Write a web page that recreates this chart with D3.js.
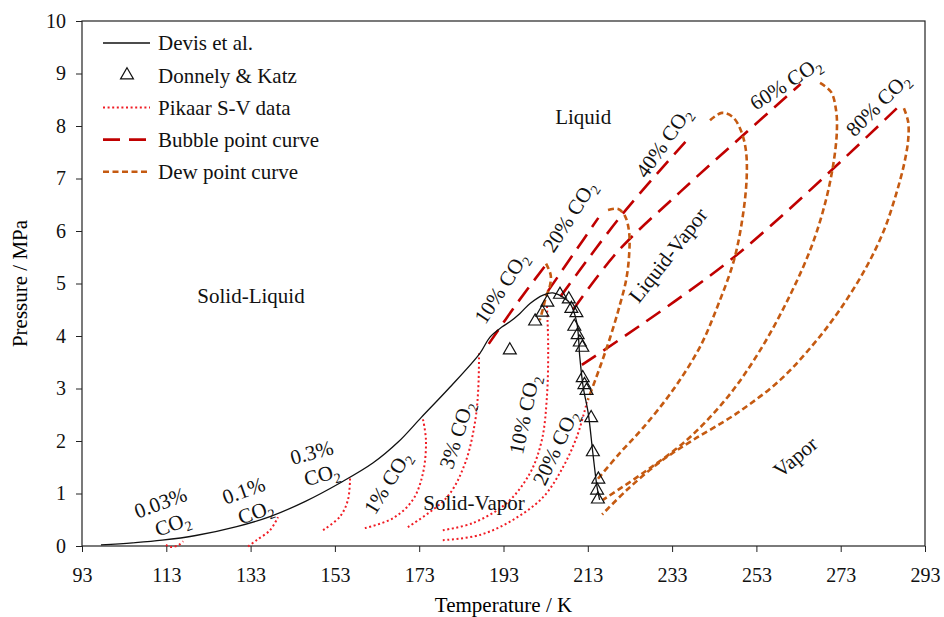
<!DOCTYPE html>
<html>
<head>
<meta charset="utf-8">
<script src="https://cdn.jsdelivr.net/npm/d3@7"></script>
<style>
  body { margin: 0; background: #fff; }
  svg { font-family: "Liberation Serif", "Times New Roman", serif; }
</style>
</head>
<body>
<svg width="944" height="617"></svg>
<script>
// Devis et al. solid-liquid-vapor line (T in K, P in MPa)
const devis = [
  [97.5, 0.02], [105, 0.06], [112, 0.11], [120, 0.2], [129.7, 0.37],
  [137.6, 0.56], [146, 0.85], [154.2, 1.2], [162, 1.58], [168, 1.98],
  [173.5, 2.45], [180, 3.0], [187.4, 3.67], [189.8, 3.98], [192.6, 4.17],
  [194.5, 4.27], [196.9, 4.43], [199.3, 4.62], [202.4, 4.78], [204.7, 4.82],
  [207.1, 4.74], [208.8, 4.62], [210.4, 4.25], [211.1, 3.6], [211.9, 3.03],
  [213.1, 2.53], [214.2, 1.77], [215.2, 1.12], [215.8, 0.88]
];

// Donnely & Katz points
const donnely = [
  [194.5, 3.73], [200.5, 4.28], [202.2, 4.45], [203.4, 4.64], [206.4, 4.79],
  [208.5, 4.7], [209.1, 4.52], [210.3, 4.44], [209.8, 4.18], [210.6, 4.02],
  [211.1, 3.88], [211.7, 3.78], [211.8, 3.2], [212.2, 3.07], [212.7, 2.96],
  [213.8, 2.44], [214.2, 1.79], [215.5, 1.27], [215.2, 1.06], [215.4, 0.89]
];

// Pikaar S-V data
const sv003 = [[112.9, 0.02], [114.2, -0.02], [116, 0.02], [117, 0.09]];
const sv01 = [[132.4, -0.01], [134.4, 0.11], [137.6, 0.3], [139.5, 0.55]];
const sv03 = [[150.2, 0.3], [154.2, 0.56], [156.1, 0.88], [156.6, 1.3]];
const sv1 = [[160.1, 0.34], [166.8, 0.53], [171.5, 0.88], [173.9, 1.39], [174.6, 2.02], [173.8, 2.45]];
const sv3 = [[170.3, 0.36], [179.6, 0.93], [183.9, 1.58], [186.2, 2.34], [187, 2.97], [187.2, 3.67]];
const sv10 = [[178.6, 0.3], [185.8, 0.44], [193.8, 0.82], [199.3, 1.39], [202.1, 2.02], [203.3, 2.84], [203.6, 3.8], [203.3, 4.6]];
const sv20 = [[178.6, 0.11], [187.4, 0.21], [195.3, 0.5], [202.4, 0.93], [207.1, 1.5], [210.4, 2.08], [212.8, 2.74]];

// bubble point curves
const bub10 = [[189.5, 3.85], [196, 4.6], [203, 5.35]];
const bub20 = [[203.5, 4.85], [209.5, 5.55], [215.5, 6.25]];
const bub40 = [[206.5, 4.75], [221, 6.3], [236.5, 7.73]];
const bub60 = [[209.5, 4.5], [220, 5.6], [235, 6.75], [249.5, 7.8], [263.5, 8.8]];
const bub80 = [[211.6, 3.45], [247.5, 5.49], [286.6, 8.36]];

// dew point curves
const dew10 = [[203.1, 5.38], [204.2, 5.16], [204, 4.95], [203.1, 4.75], [202.3, 4.5], [201.6, 4.3]];
const dew20 = [[217.8, 6.4], [220.2, 6.42], [221.8, 6.29], [222.8, 5.98], [222.8, 5.54], [222.1, 5.07], [220.6, 4.59], [218.5, 4.02], [215.9, 3.41], [213.0, 2.78]];
const dew40 = [[242.0, 8.11], [244.8, 8.25], [247.4, 8.17], [249.3, 7.92], [250.5, 7.54], [250.7, 7.03], [249.8, 6.3], [247.7, 5.45], [243.9, 4.59], [239.6, 3.79], [233.2, 2.97], [226.1, 2.25], [220.6, 1.77], [215.2, 1.26]];
const dew60 = [[268.1, 8.82], [270.7, 8.65], [271.9, 8.3], [272.1, 7.92], [271.4, 7.35], [269.5, 6.59], [266.2, 5.73], [261.0, 4.78], [253.9, 3.73], [246.0, 2.82], [236.5, 2.02], [226.1, 1.39], [216.6, 0.88]];
const dew80 = [[288.0, 8.34], [289.0, 8.08], [289.0, 7.73], [288.0, 7.26], [286.1, 6.69], [283.3, 6.02], [279.0, 5.3], [272.8, 4.5], [266.4, 3.83], [258.6, 3.16], [248.4, 2.53], [238.0, 2.02], [230.1, 1.6], [222.3, 1.07], [216.4, 0.6]];

const xTicks = d3.range(93, 294, 20);
const yTicks = d3.range(0, 11, 1);

// region + composition labels
const regionLabels = [
  { text: "Solid-Liquid", t: 133.1, p: 4.76, rot: 0 },
  { text: "Liquid", t: 211.9, p: 8.17, rot: 0 },
  { text: "Liquid-Vapor", t: 232.0, p: 5.54, rot: -52 },
  { text: "Vapor", t: 262.2, p: 1.7, rot: -40 },
  { text: "Solid-Vapor", t: 186.0, p: 0.82, rot: 0 }
];
const compLabels = [
  { text: "1% CO2", t: 165.6, p: 1.2, rot: -58 },
  { text: "3% CO2", t: 182.0, p: 2.11, rot: -72 },
  { text: "10% CO2", t: 198.1, p: 2.5, rot: -78 },
  { text: "20% CO2", t: 205.5, p: 1.87, rot: -65 },
  { text: "10% CO2", t: 192.6, p: 4.91, rot: -57 },
  { text: "20% CO2", t: 208.8, p: 6.27, rot: -57 },
  { text: "40% CO2", t: 231.1, p: 7.68, rot: -55 },
  { text: "60% CO2", t: 260.0, p: 8.8, rot: -33 },
  { text: "80% CO2", t: 281.9, p: 8.4, rot: -45 }
];
const stackLabels = [
  { text: "0.03%", t: 112.7, p: 0.59, rot: -20 },
  { text: "0.1%", t: 132.4, p: 0.82, rot: -20 },
  { text: "0.3%", t: 148.3, p: 1.54, rot: -15 }
];

const svg = d3.select("svg");
const margin = { top: 21, right: 19, bottom: 71, left: 82 };
const width = +svg.attr("width") - margin.left - margin.right;
const height = +svg.attr("height") - margin.top - margin.bottom;

svg.append("rect").attr("width", 944).attr("height", 617).attr("fill", "#fff");

const g = svg.append("g").attr("transform", `translate(${margin.left},${margin.top})`);

const x = d3.scaleLinear().domain([93, 293]).range([0, width]);
const y = d3.scaleLinear().domain([0, 10]).range([height, 0]);

// axes
const xAxis = g.append("g")
  .attr("transform", `translate(0,${height})`)
  .call(d3.axisBottom(x).tickValues(xTicks).tickSize(6).tickSizeOuter(0).tickPadding(16));
const yAxis = g.append("g")
  .call(d3.axisLeft(y).tickValues(yTicks).tickSize(6).tickSizeOuter(0).tickPadding(10));
[xAxis, yAxis].forEach((a) => {
  a.attr("font-family", null);
  a.select(".domain").remove();
  a.selectAll("text").attr("font-size", 20).attr("fill", "#111");
  a.selectAll("line").attr("stroke", "#222");
});

g.append("rect")
  .attr("width", width)
  .attr("height", height)
  .attr("fill", "none")
  .attr("stroke", "#222")
  .attr("stroke-width", 1.2);

// axis titles
svg.append("text")
  .attr("x", margin.left + width / 2)
  .attr("y", 612)
  .attr("text-anchor", "middle")
  .attr("font-size", 21)
  .text("Temperature / K");
svg.append("text")
  .attr("transform", `translate(27,${margin.top + height / 2}) rotate(-90)`)
  .attr("text-anchor", "middle")
  .attr("font-size", 21)
  .text("Pressure / MPa");

const line = d3.line()
  .x((d) => x(d[0]))
  .y((d) => y(d[1]))
  .curve(d3.curveCatmullRom.alpha(0.5));

const styles = {
  devis: { stroke: "#111", width: 1.3, dash: null },
  pikaar: { stroke: "#f01c24", width: 2, dash: "2,2.6" },
  bubble: { stroke: "#c00000", width: 2.6, dash: "17,9" },
  dew: { stroke: "#c55a11", width: 2.6, dash: "6,3.5" }
};

function drawCurve(data, s) {
  g.append("path")
    .datum(data)
    .attr("d", line)
    .attr("fill", "none")
    .attr("stroke", s.stroke)
    .attr("stroke-width", s.width)
    .attr("stroke-dasharray", s.dash);
}

[sv003, sv01, sv03, sv1, sv3, sv10, sv20].forEach((c) => drawCurve(c, styles.pikaar));
[bub10, bub20, bub40, bub60, bub80].forEach((c) => drawCurve(c, styles.bubble));
[dew10, dew20, dew40, dew60, dew80].forEach((c) => drawCurve(c, styles.dew));
drawCurve(devis, styles.devis);

const tri = d3.symbol().type(d3.symbolTriangle).size(72);
g.selectAll(".tri")
  .data(donnely)
  .enter()
  .append("path")
  .attr("class", "tri")
  .attr("d", tri)
  .attr("transform", (d) => `translate(${x(d[0])},${y(d[1])})`)
  .attr("fill", "none")
  .attr("stroke", "#111")
  .attr("stroke-width", 1.2);

// text with CO2 subscript
function writeText(sel, str) {
  const parts = str.split("CO2");
  parts.forEach((s, i) => {
    if (s) sel.append("tspan").text(s);
    if (i < parts.length - 1) {
      sel.append("tspan").text("CO");
      sel.append("tspan").attr("font-size", 14).attr("dy", 5).text("2");
    }
  });
}

regionLabels.forEach((d) => {
  const t = g.append("text")
    .attr("transform", `translate(${x(d.t)},${y(d.p)}) rotate(${d.rot})`)
    .attr("text-anchor", "middle")
    .attr("dy", "0.35em")
    .attr("font-size", 21)
    .attr("fill", "#111");
  writeText(t, d.text);
});

compLabels.forEach((d) => {
  const t = g.append("text")
    .attr("transform", `translate(${x(d.t)},${y(d.p)}) rotate(${d.rot})`)
    .attr("text-anchor", "middle")
    .attr("dy", "0.3em")
    .attr("font-size", 21)
    .attr("fill", "#111");
  writeText(t, d.text);
});

stackLabels.forEach((d) => {
  const grp = g.append("g")
    .attr("transform", `translate(${x(d.t)},${y(d.p)}) rotate(${d.rot})`);
  grp.append("text")
    .attr("text-anchor", "middle")
    .attr("y", -6)
    .attr("font-size", 21)
    .attr("fill", "#111")
    .text(d.text);
  const t = grp.append("text")
    .attr("text-anchor", "middle")
    .attr("x", 4)
    .attr("y", 18)
    .attr("font-size", 21)
    .attr("fill", "#111");
  writeText(t, "CO2");
});

// legend
const legendItems = [
  { label: "Devis et al.", type: "devis" },
  { label: "Donnely & Katz", type: "tri" },
  { label: "Pikaar S-V data", type: "pikaar" },
  { label: "Bubble point curve", type: "bubble" },
  { label: "Dew point curve", type: "dew" }
];
const legend = svg.append("g");
legendItems.forEach((d, i) => {
  const ly = 43 + i * 32.2;
  if (d.type === "tri") {
    legend.append("path")
      .attr("d", tri)
      .attr("transform", `translate(127,${ly})`)
      .attr("fill", "none")
      .attr("stroke", "#111")
      .attr("stroke-width", 1.2);
  } else {
    const s = styles[d.type];
    legend.append("line")
      .attr("x1", 103).attr("x2", 150)
      .attr("y1", ly).attr("y2", ly)
      .attr("stroke", s.stroke)
      .attr("stroke-width", s.width)
      .attr("stroke-dasharray", s.dash);
  }
  legend.append("text")
    .attr("x", 158)
    .attr("y", ly)
    .attr("dy", "0.35em")
    .attr("font-size", 21)
    .attr("fill", "#111")
    .text(d.label);
});
</script>
</body>
</html>
